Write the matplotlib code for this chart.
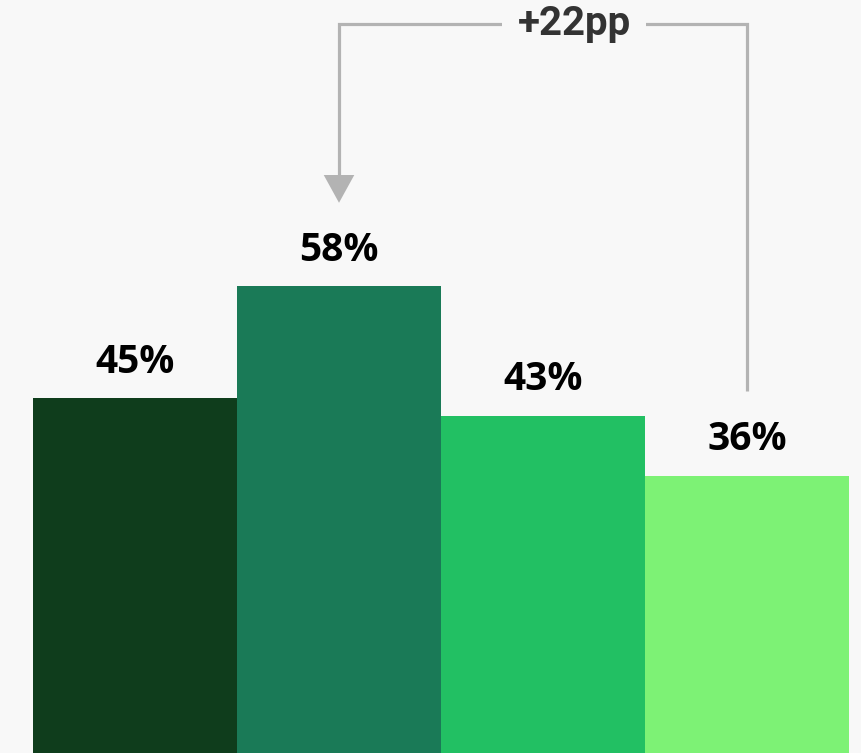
import matplotlib.pyplot as plt
import numpy as np

values = [45, 58, 43, 36]
labels = ['45%', '58%', '43%', '36%']
colors = ['#0f3d1c', '#1a7a57', '#22c063', '#7df275']
diff_text = '+22pp'
src, dst = 3, 1   # bracket goes from bar 3 to bar 1

bg = '#f8f8f8'
line_col = '#b3b3b3'

fig = plt.figure(figsize=(8.62, 7.53), dpi=100, facecolor=bg)
ax = fig.add_axes([0, 0, 1, 1], facecolor=bg)

x = np.arange(len(values))
ax.bar(x, values, width=1.0, color=colors, linewidth=0)

for xi, v, lab in zip(x, values, labels):
    ax.annotate(lab, (xi, v), xytext=(0, 12), textcoords='offset points',
                ha='center', va='bottom', fontsize=28, fontweight='bold',
                fontstretch='normal', family='Open Sans', color='black')

# bracket with arrow
top = max(values) + 30.5
y_src = values[src] + 9.8
y_dst = values[dst] + 9.7
ax.plot([src, src, dst, dst], [y_src, top, top, y_dst + 3.2],
        color=line_col, lw=2.3, solid_capstyle='butt', solid_joinstyle='miter')
ax.annotate('', xy=(dst, y_dst), xytext=(dst, y_dst + 3.5),
            arrowprops=dict(arrowstyle='-|>,head_length=1.0,head_width=0.55',
                            mutation_scale=20, color=line_col, lw=0,
                            shrinkA=0, shrinkB=0))
ax.text(2.152, top, diff_text, ha='center', va='center', fontsize=29,
        fontweight='bold', family='Roboto', color='#333333',
        bbox=dict(boxstyle='square,pad=0.38', fc=bg, ec='none'))

ax.set_xlim(-0.6618, 3.5637)
ax.set_ylim(3.83, 91.24)
ax.axis('off')

fig.savefig('out.png', dpi=100, facecolor=bg)
